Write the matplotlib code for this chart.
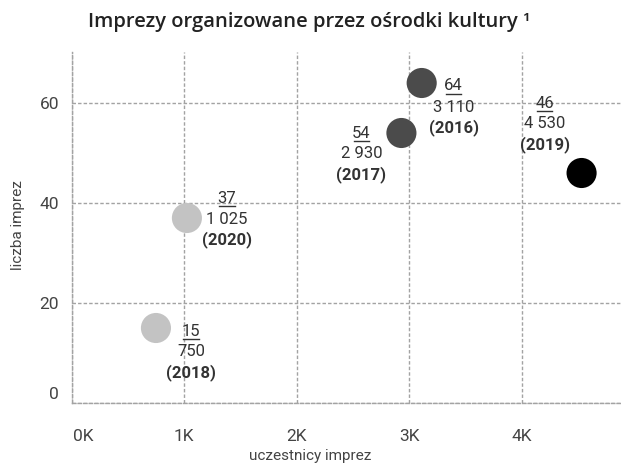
import matplotlib.pyplot as plt
from matplotlib.lines import Line2D
from matplotlib.transforms import ScaledTranslation

# dane: rok, uczestnicy, liczba imprez
years = ['2016', '2017', '2018', '2019', '2020']
participants = [3110, 2930, 750, 4530, 1025]
events = [64, 54, 15, 46, 37]
participant_labels = ['3 110', '2 930', '750', '4 530', '1 025']
colors = ['#4b4b4b', '#4b4b4b', '#c3c3c3', '#000000', '#c3c3c3']

x_ticks = [0, 1000, 2000, 3000, 4000]
x_tick_labels = ['0K', '1K', '2K', '3K', '4K']
y_ticks = [0, 20, 40, 60]

# przesuniecie etykiet (px, srodek gornej linii wzgledem punktu)
label_offsets = [(32, 3), (-40, 0), (35, 3), (-37, -70), (40, -20)]
line_gap = 21

plt.rcParams['font.family'] = ['Roboto', 'DejaVu Sans']

fig = plt.figure(figsize=(6.21, 4.68), dpi=100)
W, H = 621, 468
ax = fig.add_axes([71.5 / W, 1 - 403 / H, 1 - 71.5 / W, (403 - 52) / H])
ax.set_xlim(0, (W - 71.5) / 112.6 * 1000)
ax.set_ylim(0, (403 - 52) / 5)

grid_col = '#a3a3a3'
dash = (0, (2.5, 1.5))
ax.set_xticks(x_ticks)
ax.set_xticklabels(x_tick_labels)
ax.set_yticks(y_ticks)
ax.grid(color=grid_col, linestyle=dash, linewidth=1)
ax.set_axisbelow(True)
for s in ['top', 'right']:
    ax.spines[s].set_visible(False)
for s in ['left', 'bottom']:
    ax.spines[s].set_color(grid_col)
    ax.spines[s].set_linestyle(dash)
    ax.spines[s].set_linewidth(1)
ax.tick_params(axis='x', length=0, pad=19, labelsize=12.5, labelcolor='#444444')
ax.tick_params(axis='y', length=0, pad=9, labelsize=12.5, labelcolor='#444444')

# przesuniecie skrajnych etykiet osi
t0 = ax.xaxis.get_major_ticks()[0].label1
t0.set_transform(t0.get_transform() + ScaledTranslation(12 / 100, 0, fig.dpi_scale_trans))
t1 = ax.yaxis.get_major_ticks()[0].label1
t1.set_transform(t1.get_transform() + ScaledTranslation(0, 10 / 100, fig.dpi_scale_trans))

ax.scatter(participants, events, s=470, c=colors, zorder=3, linewidths=0)

num_texts = []
for i in range(len(years)):
    dx, dy = label_offsets[i]
    xy = (participants[i], events[i])
    t = ax.annotate(str(events[i]), xy, xytext=(dx * 0.72, -dy * 0.72), textcoords='offset points',
                    ha='center', va='center', fontsize=12, color='#333333')
    num_texts.append(t)
    ax.annotate(participant_labels[i], xy, xytext=(dx * 0.72, -(dy + line_gap) * 0.72),
                textcoords='offset points', ha='center', va='center', fontsize=12, color='#333333')
    ax.annotate('(' + years[i] + ')', xy, xytext=(dx * 0.72, -(dy + 2 * line_gap) * 0.72),
                textcoords='offset points', ha='center', va='center', fontsize=12,
                fontweight='bold', color='#333333')

# podkreslenie liczby imprez
fig.canvas.draw()
inv = fig.transFigure.inverted()
for i, t in enumerate(num_texts):
    bb = t.get_window_extent()
    px, py = ax.transData.transform((participants[i], events[i]))
    yy = py - label_offsets[i][1] - 8
    p0 = inv.transform((bb.x0 + 1.5, yy))
    p1 = inv.transform((bb.x1 - 1.5, yy))
    fig.add_artist(Line2D([p0[0], p1[0]], [p0[1], p1[1]], color='#333333', linewidth=1))

fig.text(309 / W, 1 - 22 / H, 'Imprezy organizowane przez ośrodki kultury ¹', ha='center', va='center',
         fontsize=14.5, fontweight='semibold', family=['Open Sans', 'DejaVu Sans'], color='#222222')
fig.text(310 / W, 1 - 456 / H, 'uczestnicy imprez', ha='center', va='center', fontsize=11, color='#444444')
fig.text(18 / W, 1 - 225 / H, 'liczba imprez', ha='center', va='center', rotation=90, fontsize=11,
         color='#444444')

fig.savefig('out.png', dpi=100)
